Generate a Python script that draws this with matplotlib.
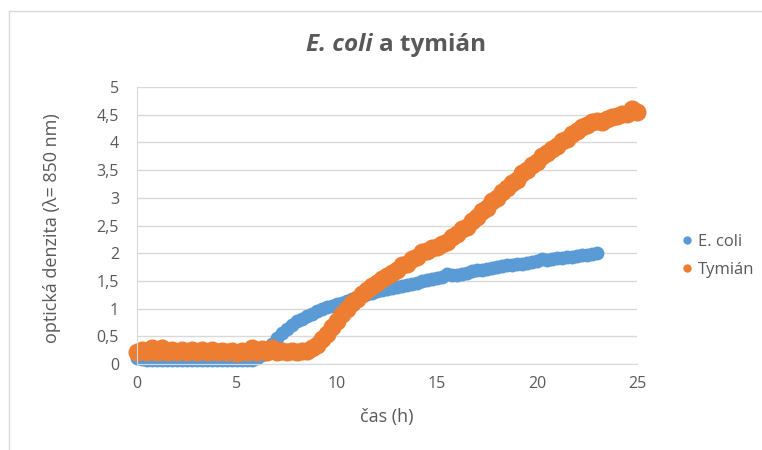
import matplotlib
matplotlib.use('Agg')
import matplotlib.pyplot as plt
from matplotlib.lines import Line2D

plt.rcParams['font.family'] = ['Open Sans', 'DejaVu Sans']

# time (h) and optical density readings
cas_ecoli = [0, 0.25, 0.5, 0.75, 1, 1.25, 1.5, 1.75, 2, 2.25, 2.5, 2.75, 3, 3.25, 3.5, 3.75,
             4, 4.25, 4.5, 4.75, 5, 5.25, 5.5, 5.75, 6, 6.25, 6.5, 6.75, 7, 7.25, 7.5, 7.75,
             8, 8.25, 8.5, 8.75, 9, 9.25, 9.5, 9.75, 10, 10.25, 10.5, 10.75, 11, 11.25, 11.5, 11.75,
             12, 12.25, 12.5, 12.75, 13, 13.25, 13.5, 13.75, 14, 14.25, 14.5, 14.75, 15, 15.25, 15.5, 15.75,
             16, 16.25, 16.5, 16.75, 17, 17.25, 17.5, 17.75, 18, 18.25, 18.5, 18.75, 19, 19.25, 19.5, 19.75,
             20, 20.25, 20.5, 20.75, 21, 21.25, 21.5, 21.75, 22, 22.25, 22.5, 22.75, 23]
od_ecoli = [0.11, 0.09, 0.08, 0.08, 0.07, 0.07, 0.07, 0.07, 0.07, 0.07, 0.07, 0.07, 0.07, 0.07, 0.07, 0.07,
            0.07, 0.07, 0.07, 0.07, 0.07, 0.07, 0.07, 0.08, 0.11, 0.17, 0.26, 0.37, 0.47, 0.56, 0.64, 0.71,
            0.77, 0.82, 0.87, 0.91, 0.95, 0.99, 1.02, 1.05, 1.08, 1.11, 1.14, 1.17, 1.20, 1.23, 1.26, 1.28,
            1.31, 1.33, 1.35, 1.37, 1.39, 1.41, 1.43, 1.45, 1.47, 1.49, 1.51, 1.53, 1.55, 1.57, 1.62, 1.60,
            1.61, 1.63, 1.65, 1.67, 1.69, 1.70, 1.72, 1.74, 1.75, 1.76, 1.78, 1.79, 1.80, 1.81, 1.83, 1.84,
            1.86, 1.89, 1.88, 1.89, 1.91, 1.92, 1.93, 1.94, 1.95, 1.96, 1.97, 1.99, 2.00]

cas_tymian = [0, 0.25, 0.5, 0.75, 1, 1.25, 1.5, 1.75, 2, 2.25, 2.5, 2.75, 3, 3.25, 3.5, 3.75,
              4, 4.25, 4.5, 4.75, 5, 5.25, 5.5, 5.75, 6, 6.25, 6.5, 6.75, 7, 7.25, 7.5, 7.75,
              8, 8.25, 8.5, 8.75, 9, 9.25, 9.5, 9.75, 10, 10.25, 10.5, 10.75, 11, 11.25, 11.5, 11.75,
              12, 12.25, 12.5, 12.75, 13, 13.25, 13.5, 13.75, 14, 14.25, 14.5, 14.75, 15, 15.25, 15.5, 15.75,
              16, 16.25, 16.5, 16.75, 17, 17.25, 17.5, 17.75, 18, 18.25, 18.5, 18.75, 19, 19.25, 19.5, 19.75,
              20, 20.25, 20.5, 20.75, 21, 21.25, 21.5, 21.75, 22, 22.25, 22.5, 22.75, 23, 23.25, 23.5, 23.75,
              24, 24.25, 24.5, 24.75, 25]
od_tymian = [0.21, 0.25, 0.22, 0.29, 0.22, 0.28, 0.21, 0.25, 0.21, 0.25, 0.21, 0.26, 0.21, 0.25, 0.21, 0.26,
             0.21, 0.24, 0.21, 0.24, 0.20, 0.23, 0.21, 0.29, 0.21, 0.27, 0.21, 0.28, 0.21, 0.24, 0.21, 0.24,
             0.21, 0.23, 0.23, 0.28, 0.35, 0.45, 0.55, 0.67, 0.78, 0.90, 1.00, 1.10, 1.18, 1.27, 1.33, 1.41,
             1.46, 1.54, 1.58, 1.65, 1.70, 1.78, 1.81, 1.89, 1.94, 2.02, 2.04, 2.10, 2.12, 2.17, 2.20, 2.29,
             2.34, 2.44, 2.48, 2.59, 2.65, 2.76, 2.82, 2.94, 3.00, 3.10, 3.17, 3.27, 3.33, 3.44, 3.50, 3.59,
             3.65, 3.76, 3.80, 3.88, 3.93, 4.02, 4.07, 4.15, 4.20, 4.27, 4.31, 4.37, 4.38, 4.36, 4.43, 4.46,
             4.47, 4.51, 4.52, 4.60, 4.55]

y_ticks = [0, 0.5, 1, 1.5, 2, 2.5, 3, 3.5, 4, 4.5, 5]
y_labels = ['0', '0,5', '1', '1,5', '2', '2,5', '3', '3,5', '4', '4,5', '5']
x_ticks = [0, 5, 10, 15, 20, 25]

blue = '#5B9BD5'
orange = '#ED7D31'
txt = '#595959'
grid = '#D9D9D9'

fig = plt.figure(figsize=(7.62, 4.5), dpi=100)
ax = fig.add_axes([137 / 762, 1 - 364 / 450, 500 / 762, 277 / 450])

ax.plot(cas_ecoli, od_ecoli, 'o', ms=10, color=blue, mec='none', label='E. coli', clip_on=False)
ax.plot(cas_tymian, od_tymian, 'o', ms=13, color=orange, mec='none', label='Tymián', clip_on=False)

ax.set_xlim(0, 25)
ax.set_ylim(0, 5)
ax.set_yticks(y_ticks)
ax.set_yticklabels(y_labels)
ax.set_xticks(x_ticks)
ax.yaxis.grid(True, color=grid, lw=1)
ax.set_axisbelow(True)
for s in ['top', 'right']:
    ax.spines[s].set_visible(False)
for s in ['left', 'bottom']:
    ax.spines[s].set_color(grid)
ax.tick_params(length=0, labelsize=11.5, colors=txt)
ax.tick_params(axis='y', pad=13)
ax.tick_params(axis='x', pad=9)

ax.set_xlabel('čas (h)', fontsize=13, color=txt, va='center')
ax.xaxis.set_label_coords(0.5, (364 - 417) / 277)
ax.set_ylabel('optická denzita (λ= 850 nm)', fontsize=13, color=txt, va='center')
ax.yaxis.set_label_coords((52 - 137) / 500, 0.49)

fig.text(373 / 762, 1 - 45 / 450, 'E. coli', ha='right', va='center', fontsize=17.5,
         fontweight='bold', fontstyle='italic', color=txt)
fig.text(379 / 762, 1 - 45 / 450, 'a tymián', ha='left', va='center', fontsize=17.5,
         fontweight='bold', color=txt)

leg = fig.legend(loc='center left', bbox_to_anchor=(670 / 762, 1 - 256 / 450), frameon=False,
                 fontsize=12, handletextpad=0.05, handlelength=1.2, labelspacing=0.7,
                 borderaxespad=0)
for h in leg.legend_handles:
    h.set_markersize(6)
for t in leg.get_texts():
    t.set_color(txt)

# chart area frame (left and top edge visible)
fig.add_artist(Line2D([9 / 762, 9 / 762], [0, 1 - 11 / 450], transform=fig.transFigure, color=grid, lw=1))
fig.add_artist(Line2D([9 / 762, 1], [1 - 11 / 450, 1 - 11 / 450], transform=fig.transFigure, color=grid, lw=1))

fig.savefig('out.png', dpi=100)
